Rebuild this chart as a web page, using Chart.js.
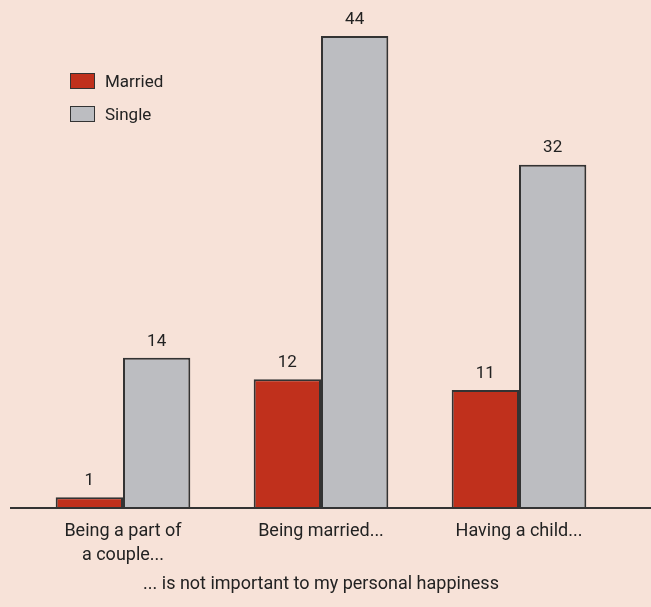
<!DOCTYPE html>
<html>
<head>
<meta charset="utf-8">
<script src="https://cdn.jsdelivr.net/npm/chart.js@4.4.1/dist/chart.umd.min.js"></script>
<style>
  html, body { margin: 0; padding: 0; background: #f7e2d8; }
  #wrap { position: relative; width: 651px; height: 607px; }
  #legend { position: absolute; left: 70px; top: 64px; font-family: Roboto, "Liberation Sans Narrow", sans-serif; font-size: 17px; color: #222; }
  #legend div { display: flex; align-items: center; height: 33px; }
  #legend span.box { display: inline-block; width: 23px; height: 14px; border: 1.5px solid #333; margin-right: 10px; }
</style>
</head>
<body>
<div id="wrap">
  <canvas id="chart" width="651" height="607"></canvas>
  <div id="legend"></div>
</div>
<script>
// Chart data
const categories = [['Being a part of', 'a couple...'], 'Being married...', 'Having a child...'];
const marriedValues = [1, 12, 11];
const singleValues = [14, 44, 32];

const Colors = {
    married: '#c0301c',
    single: '#bcbdc1',
    border: '#333333',
    text: '#222222'
};
const FONT = 'Roboto, "Liberation Sans Narrow", sans-serif';

// Value labels above each bar
const valueLabels = {
    id: 'valueLabels',
    afterDatasetsDraw(chart) {
        const ctx = chart.ctx;
        ctx.save();
        ctx.font = '17px ' + FONT;
        ctx.fillStyle = Colors.text;
        ctx.textAlign = 'center';
        ctx.textBaseline = 'bottom';
        chart.data.datasets.forEach((ds, i) => {
            chart.getDatasetMeta(i).data.forEach((bar, j) => {
                ctx.fillText(ds.data[j], bar.x, bar.y - 8);
            });
        });
        ctx.restore();
    }
};

// Baseline across the full width
const baseline = {
    id: 'baseline',
    afterDatasetsDraw(chart) {
        const ctx = chart.ctx;
        const y = chart.scales.y.getPixelForValue(0);
        ctx.save();
        ctx.strokeStyle = Colors.border;
        ctx.lineWidth = 2;
        ctx.beginPath();
        ctx.moveTo(10, y);
        ctx.lineTo(chart.width, y);
        ctx.stroke();
        ctx.restore();
    }
};

const chart = new Chart(document.getElementById('chart').getContext('2d'), {
    type: 'bar',
    data: {
        labels: categories,
        datasets: [{
            label: 'Married',
            data: marriedValues,
            backgroundColor: Colors.married,
            borderColor: Colors.border,
            borderWidth: 2
        }, {
            label: 'Single',
            data: singleValues,
            backgroundColor: Colors.single,
            borderColor: Colors.border,
            borderWidth: 2
        }]
    },
    options: {
        responsive: false,
        animation: false,
        layout: { padding: { top: 36, left: 24, right: 33, bottom: 8 } },
        plugins: {
            legend: { display: false },
            tooltip: { enabled: false }
        },
        datasets: {
            bar: { categoryPercentage: 0.68, barPercentage: 1 }
        },
        scales: {
            y: {
                display: false,
                min: 0,
                max: 44
            },
            x: {
                grid: { display: false },
                border: { display: false },
                ticks: {
                    color: Colors.text,
                    padding: 4,
                    font: { family: FONT, size: 18, lineHeight: 1.3 }
                },
                title: {
                    display: true,
                    text: '... is not important to my personal happiness',
                    color: Colors.text,
                    padding: { top: 6, bottom: 7.8 },
                    font: { family: FONT, size: 18, lineHeight: 0.8 }
                }
            }
        }
    },
    plugins: [valueLabels, baseline]
});

// HTML legend built from the datasets
const legendEl = document.getElementById('legend');
chart.data.datasets.forEach(ds => {
    const row = document.createElement('div');
    const box = document.createElement('span');
    box.className = 'box';
    box.style.background = ds.backgroundColor;
    row.appendChild(box);
    row.appendChild(document.createTextNode(ds.label));
    legendEl.appendChild(row);
});
</script>
</body>
</html>
